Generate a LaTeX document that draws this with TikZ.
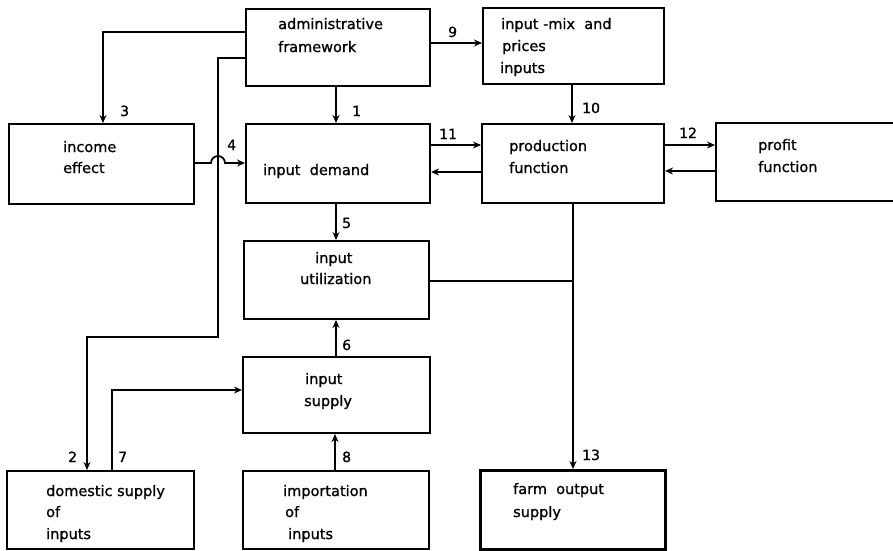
\documentclass[tikz,border=0pt]{standalone}
\usepackage{fontspec}
\setmainfont{DejaVu Sans}[FakeBold=1]
\usetikzlibrary{arrows.meta,calc}
\begin{document}
\begin{tikzpicture}[x=1pt,y=-1pt,
  box/.style={draw, line width=2pt, inner sep=0pt, anchor=north west},
  txt/.style={anchor=base west, inner sep=0pt, font=\fontsize{14.5}{17}\selectfont},
  num/.style={anchor=base west, inner sep=0pt, font=\fontsize{14}{17}\selectfont},
  conn/.style={line width=1.7pt},
  arr/.style={conn, -{Stealth[length=8pt,width=7pt]}}]
\clip (0,0) rectangle (893,550);
% boxes
\node[box, minimum width=184pt, minimum height=77pt] (adm)  at (245,8) {};
\node[box, minimum width=181pt, minimum height=76pt] (mix)  at (482,7) {};
\node[box, minimum width=185pt, minimum height=80pt] (inc)  at (8,123) {};
\node[box, minimum width=184pt, minimum height=79pt] (dem)  at (245,123) {};
\node[box, minimum width=182pt, minimum height=79pt] (prod) at (481,123) {};
\node[box, minimum width=195pt, minimum height=78pt] (prof) at (715,122) {};
\node[box, minimum width=185pt, minimum height=78pt] (util) at (243,240) {};
\node[box, minimum width=187pt, minimum height=76pt] (sup)  at (242,356) {};
\node[box, minimum width=187pt, minimum height=78pt] (dom)  at (6,470) {};
\node[box, minimum width=186pt, minimum height=78pt] (imp)  at (242,470) {};
\node[box, line width=2.8pt, minimum width=185pt, minimum height=79pt] (farm) at (479,469) {};
% texts
\node[txt] (t1a) at (278,29) {administrative};
\node[txt] (t1b) at (278,52) {framework};
\node[txt] (t2a) at (501,29) {input -mix\ \ and};
\node[txt] (t2b) at (502,51) {prices};
\node[txt] (t2c) at (500,73) {inputs};
\node[txt] (t3a) at (63,152) {income};
\node[txt] (t3b) at (63,173) {effect};
\node[txt] (t4a) at (263,175) {input\ \ demand};
\node[txt] (t5a) at (509,151) {production};
\node[txt] (t5b) at (509,173) {function};
\node[txt] (t6a) at (758,150) {profit};
\node[txt] (t6b) at (758,172) {function};
\node[txt] (t7a) at (315,263) {input};
\node[txt] (t7b) at (300,284) {utilization};
\node[txt] (t8a) at (305,384) {input};
\node[txt] (t8b) at (304,406) {supply};
\node[txt] (t9a) at (46,496) {domestic supply};
\node[txt] (t9b) at (46,517) {of};
\node[txt] (t9c) at (46,539) {inputs};
\node[txt] (t10a) at (283,496) {importation};
\node[txt] (t10b) at (285,517) {of};
\node[txt] (t10c) at (288,539) {inputs};
\node[txt] (t11a) at (513,494) {farm\ \ output};
\node[txt] (t11b) at (513,517) {supply};
% connectors
\draw[arr] ([xshift=91pt]adm.south west) -- ([xshift=91pt]dem.north west);
\draw[arr] ([yshift=-24pt]adm.north west) -| ([xshift=95pt]inc.north west);
\draw[arr] ([yshift=-50pt]adm.north west) -- ++(-27,0) -- ++(0,279) -| ([xshift=81pt]dom.north west);
\draw[arr] ([yshift=-40pt]inc.north east) -- (211,163) arc[start angle=180, end angle=0, radius=7pt] -- ([yshift=-40pt]dem.north west);
\draw[arr] ([yshift=-35pt]adm.north east) -- ([yshift=-36pt]mix.north west);
\draw[arr] ([xshift=90pt]mix.south west) -- ([xshift=91pt]prod.north west);
\draw[arr] ([yshift=-22pt]dem.north east) -- ([yshift=-22pt]prod.north west);
\draw[arr] ([yshift=-49pt]prod.north west) -- ([yshift=-49pt]dem.north east);
\draw[arr] ([yshift=-22pt]prod.north east) -- ([yshift=-23pt]prof.north west);
\draw[arr] ([yshift=-49pt]prof.north west) -- ([yshift=-48pt]prod.north east);
\draw[arr] ([xshift=91pt]dem.south west) -- ([xshift=93pt]util.north west);
\draw[arr] ([xshift=94pt]sup.north west) -- ([xshift=93pt]util.south west);
\draw[arr] ([xshift=93pt]imp.north west) -- ([xshift=93pt]sup.south west);
\draw[arr] ([xshift=106pt]dom.north west) |- ([yshift=-34pt]sup.north west);
\draw[arr] (prod.south) -- (prod.south |- farm.north);
\draw[conn] ([yshift=-41pt]util.north east) coordinate (u) -- (u -| prod.south);
% numbers
\node[num] (n1) at (352,116) {1};
\node[num] (n2) at (68,462) {2};
\node[num] (n3) at (120,116) {3};
\node[num] (n4) at (227,150) {4};
\node[num] (n5) at (342,228) {5};
\node[num] (n6) at (342,350) {6};
\node[num] (n7) at (118,462) {7};
\node[num] (n8) at (342,462) {8};
\node[num] (n9) at (448,37) {9};
\node[num] (n10) at (582,113) {10};
\node[num] (n11) at (439,139) {11};
\node[num] (n12) at (679,138) {12};
\node[num] (n13) at (582,460) {13};
\end{tikzpicture}
\end{document}
